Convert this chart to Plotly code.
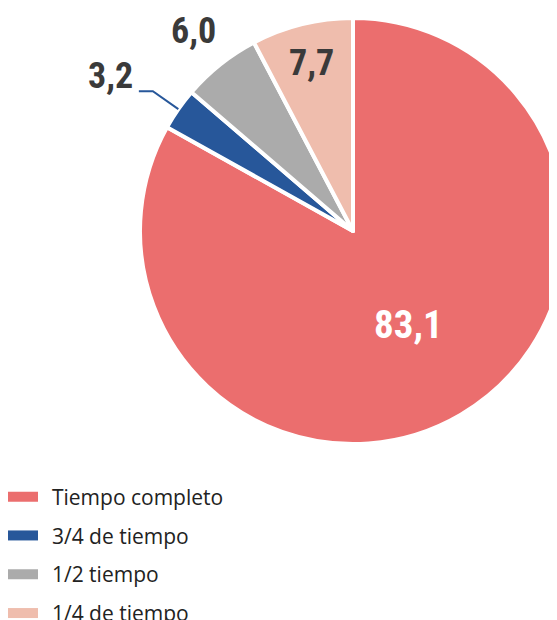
import math
import plotly.graph_objects as go

CATEGORIES = ["Tiempo completo", "3/4 de tiempo", "1/2 tiempo", "1/4 de tiempo"]
VALUES = [83.1, 3.2, 6.0, 7.7]
VALUE_LABELS = ["83,1", "3,2", "6,0", "7,7"]

COLORS = ["#EB6E6E", "#27579A", "#ABABAB", "#EFBDAD"]

W, H = 580, 620
OFF = 8  # page body margin that shifts the figure
# pie placement in window pixels (centre and radius)
CX, CY, R = 353 - OFF, 231 - OFF, 213
# distance of each value label from centre, as a fraction of the radius
LABEL_DIST = [0.51, 1.34, 1.20, 0.81]
LABEL_COLORS = ["#FFFFFF", "#3A3A3A", "#3A3A3A", "#3A3A3A"]
LABEL_SIZES = [39, 36, 36, 36]
LABEL_FONT = "Roboto Condensed, DejaVu Sans Condensed, DejaVu Sans, sans-serif"


def px(x, y):
    return x / W, 1 - y / H


def label_font(size, color):
    try:
        return go.layout.annotation.Font(family=LABEL_FONT, size=size, color=color,
                                         weight="bold", stretch="condensed")
    except Exception:
        return go.layout.annotation.Font(family=LABEL_FONT, size=size, color=color)


fig = go.Figure()

fig.add_trace(
    go.Pie(
        labels=CATEGORIES,
        values=VALUES,
        sort=False,
        direction="clockwise",
        rotation=0,
        marker=dict(colors=COLORS, line=dict(color="white", width=4)),
        textinfo="none",
        showlegend=False,
        hoverinfo="label+value",
        domain=dict(x=[(CX - R) / W, (CX + R) / W], y=[1 - (CY + R) / H, 1 - (CY - R) / H]),
    )
)

# legend entries as wide bars
for name, color in zip(CATEGORIES, COLORS):
    fig.add_trace(
        go.Scatter(
            x=[None], y=[None], mode="lines", name="\u00a0\u2009" + name,
            legendgroup=name,
            line=dict(color=color, width=10),
        )
    )

# value labels, placed along each slice's mid angle
total = sum(VALUES)
cum = 0
for i, v in enumerate(VALUES):
    mid = (cum + v / 2) / total * 2 * math.pi
    cum += v
    dx, dy = math.sin(mid), -math.cos(mid)
    lx, ly = CX + LABEL_DIST[i] * R * dx, CY + LABEL_DIST[i] * R * dy
    xanchor = "center"
    if i == 1:
        # leader line for the thin 3/4 slice, label sits at its end
        e0 = (CX + R * dx, CY + R * dy)
        e1 = (CX + 1.146 * R * dx, CY + 1.146 * R * dy)
        e2 = (e1[0] - 14, e1[1])
        p0, p1, p2 = px(*e0), px(*e1), px(*e2)
        fig.add_shape(
            type="path", xref="paper", yref="paper",
            path="M %f %f L %f %f L %f %f" % (p0[0], p0[1], p1[0], p1[1], p2[0], p2[1]),
            line=dict(color=COLORS[1], width=2),
        )
        lx, ly = e2[0] - 4, e2[1] - 15
        xanchor = "right"
    ax, ay = px(lx, ly)
    fig.add_annotation(
        x=ax, y=ay, xref="paper", yref="paper", text="<b>%s</b>" % VALUE_LABELS[i],
        showarrow=False, xanchor=xanchor, yanchor="middle",
        font=label_font(LABEL_SIZES[i], LABEL_COLORS[i]),
    )

fig.update_layout(
    width=W,
    height=H,
    margin=dict(l=0, r=0, t=0, b=0, autoexpand=False),
    paper_bgcolor="white",
    plot_bgcolor="white",
    xaxis=dict(visible=False),
    yaxis=dict(visible=False),
    showlegend=True,
    legend=dict(
        x=-5 / W, y=1 - 468.5 / H, xanchor="left", yanchor="top",
        font=dict(family="Open Sans, sans-serif", size=21, color="#222222"),
        itemwidth=30,
        tracegroupgap=8.5,
        bgcolor="rgba(0,0,0,0)",
    ),
)

fig.write_html("out.html")
